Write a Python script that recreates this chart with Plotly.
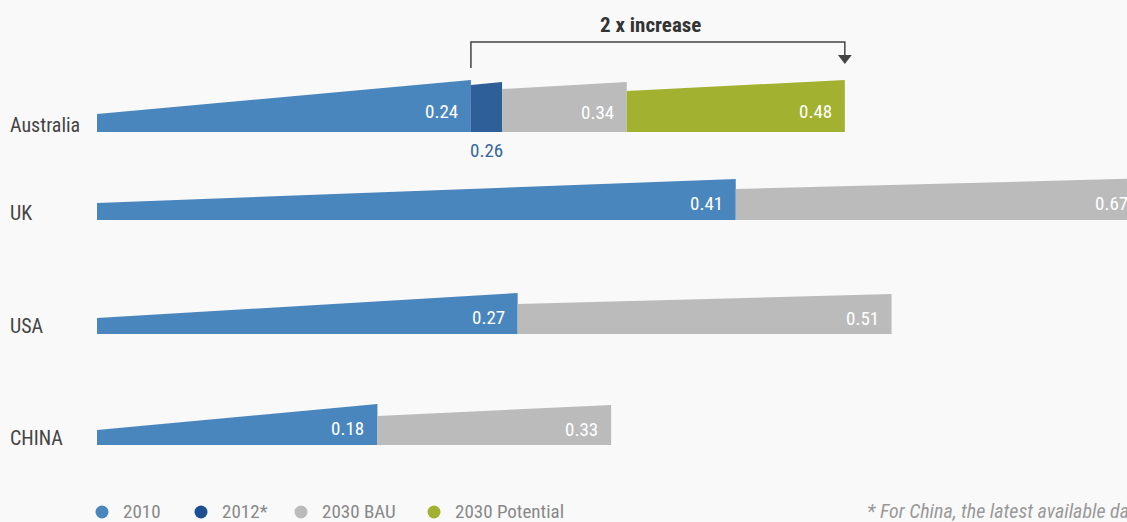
import plotly.graph_objects as go

# ---------------- data ----------------
countries = ["Australia", "UK", "USA", "CHINA"]
v2010 = [0.24, 0.41, 0.27, 0.18]
v2012 = [0.26, None, None, None]
v2030_bau = [0.34, 0.67, 0.51, 0.33]
v2030_pot = [0.48, None, None, None]
series_names = ["2010", "2012*", "2030 BAU", "2030 Potential"]
title_text = "2 x increase"
footnote = "* For China, the latest available data is for 2010"

# ---------------- style ----------------
W, H = 1127, 522
X0_PX = 97          # pixel of value 0
SCALE = 1558.0      # pixels per unit
BG = "#F9F9F9"
FONT = "Roboto Condensed, Liberation Sans Narrow, DejaVu Sans Condensed, Roboto, sans-serif"
seg_colors = ["#4A86BE", "#2F5F98", "#BBBBBB", "#A2B12F"]
legend_colors = ["#4A86BE", "#1B5194", "#BBBBBB", "#A2B12F"]
baselines = [132, 220, 334, 445]      # bar bottom (px from top)
label_y = [125, 213, 326, 438]
# wedge heights (left, right) in px, per country per segment
heights = [
    [(18, 52), (47, 50), (43, 50), (41, 52)],
    [(17, 41), None, (31, 41.5), None],
    [(16, 41), None, (30, 40), None],
    [(15, 41), None, (29, 40), None],
]


def px2x(px):
    return (px - X0_PX) / SCALE


XMIN, XMAX = px2x(0), px2x(W)


def x2paper(v):
    # position through the x axis range (used so labels past the edge still render)
    return (v - XMIN) / (XMAX - XMIN)


fig = go.Figure()
annotations = []

all_series = [v2010, v2012, v2030_bau, v2030_pot]
for ci, c in enumerate(countries):
    start = 0.0
    base = baselines[ci]
    for si, ser in enumerate(all_series):
        val = ser[ci]
        if val is None:
            continue
        hl, hr = heights[ci][si]
        fig.add_trace(go.Scatter(
            x=[start, start, val, val, start],
            y=[base, base - hl, base - hr, base, base],
            mode="lines", fill="toself", fillcolor=seg_colors[si],
            line=dict(width=0), hoverinfo="skip", showlegend=False,
        ))
        if si != 1:
            annotations.append(dict(
                x=x2paper(val), y=base - 0.4 * hr, xref="paper", yref="y",
                text=f"{val:.2f}", showarrow=False, xanchor="right",
                yanchor="middle", xshift=-11,
                font=dict(family=FONT, size=19, color="white"),
            ))
        else:
            annotations.append(dict(
                x=(start + val) / 2, y=base + 18, xref="x", yref="y",
                text=f"{val:.2f}", showarrow=False, xanchor="center",
                yanchor="middle",
                font=dict(family=FONT, size=19, color="#3466A0"),
            ))
        start = val
    annotations.append(dict(
        x=px2x(8), y=label_y[ci], xref="x", yref="y", text=c,
        showarrow=False, xanchor="left", yanchor="middle",
        font=dict(family=FONT, size=20, color="#444444"),
    ))

# bracket for "2 x increase"
a, b = v2010[0], v2030_pot[0]
fig.add_trace(go.Scatter(
    x=[a, a, b, b], y=[68, 42, 42, 56], mode="lines",
    line=dict(color="#444444", width=1.5), hoverinfo="skip", showlegend=False,
))
fig.add_trace(go.Scatter(
    x=[b], y=[58], mode="markers",
    marker=dict(symbol="triangle-down", size=12, color="#444444"),
    hoverinfo="skip", showlegend=False,
))
annotations.append(dict(
    x=(a + b) / 2, y=25, xref="x", yref="y", text=f"<b>{title_text}</b>",
    showarrow=False, xanchor="center", yanchor="middle", xshift=-7,
    font=dict(family=FONT, size=21, color="#333333"),
))

# legend (manual)
legend_px = [102, 201, 301, 434]
fig.add_trace(go.Scatter(
    x=[px2x(p) for p in legend_px], y=[512] * 4, mode="markers",
    marker=dict(size=13, color=legend_colors, symbol="circle"),
    hoverinfo="skip", showlegend=False, cliponaxis=False,
))
for p, name in zip(legend_px, series_names):
    annotations.append(dict(
        x=px2x(p + 19), y=511, xref="x", yref="y", text=name,
        showarrow=False, xanchor="left", yanchor="middle",
        font=dict(family=FONT, size=19, color="#888888"),
    ))
annotations.append(dict(
    x=px2x(865), y=511, xref="x", yref="y", text=f"<i>{footnote}</i>",
    showarrow=False, xanchor="left", yanchor="middle",
    font=dict(family=FONT, size=20, color="#999999"),
))

fig.update_layout(
    width=W, height=H,
    margin=dict(l=0, r=0, t=0, b=0),
    paper_bgcolor=BG, plot_bgcolor=BG,
    xaxis=dict(range=[XMIN, XMAX], visible=False, fixedrange=True),
    yaxis=dict(range=[H, 0], visible=False, fixedrange=True),
    annotations=annotations,
    showlegend=False,
)

fig.write_html(
    "out.html",
    config={"displayModeBar": False},
    post_script="document.body.style.margin='0';document.body.style.background='#F9F9F9';document.body.style.overflow='hidden';",
)
